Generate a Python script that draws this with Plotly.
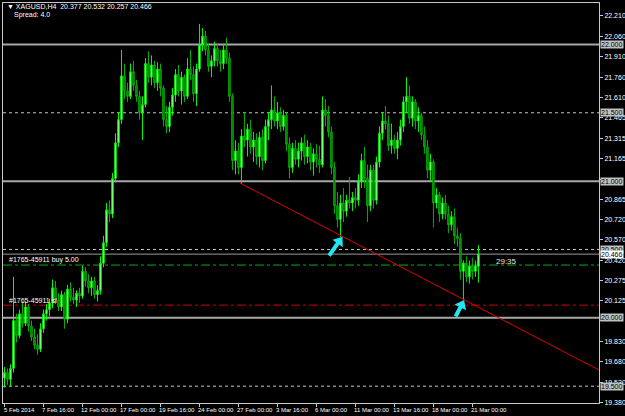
import plotly.graph_objects as go

# ---------------- data ----------------
bar_open = [19.56,19.60,19.55,19.63,19.98,19.87,20.03,19.96,20.08,19.94,
            19.86,19.80,19.77,19.92,20.03,20.06,20.11,20.22,20.13,20.08,
            20.17,19.99,20.21,20.15,20.13,20.18,20.16,20.34,20.27,20.22,
            20.27,20.17,20.20,20.40,20.55,20.79,20.76,21.02,21.28,21.45,
            21.77,21.66,21.62,21.80,21.70,21.62,21.50,21.56,21.86,21.76,
            21.85,21.72,21.82,21.68,21.45,21.40,21.54,21.63,21.78,21.66,
            21.76,21.62,21.82,21.78,21.64,21.82,22.00,22.06,21.96,21.84,
            21.88,21.97,21.88,21.86,21.96,21.90,21.62,21.15,21.22,21.10,
            21.33,21.30,21.38,21.25,21.30,21.18,21.32,21.15,21.40,21.45,
            21.52,21.44,21.50,21.40,21.48,21.27,21.10,21.24,21.16,21.22,
            21.28,21.18,21.25,21.14,21.20,21.16,21.12,21.52,21.48,21.36,
            21.10,20.82,20.72,20.84,20.78,20.86,20.84,20.88,20.86,21.00,
            21.15,21.02,20.82,21.08,20.86,21.14,21.35,21.44,21.42,21.26,
            21.30,21.24,21.30,21.40,21.58,21.62,21.46,21.58,21.44,21.48,
            21.34,21.25,21.08,21.14,20.84,20.90,20.76,20.84,20.76,20.68,
            20.74,20.60,20.58,20.34,20.40,20.30,20.38,20.34,20.377]
bar_high = [19.64,19.63,19.66,20.30,20.03,20.06,20.12,20.12,20.10,19.98,
            19.92,19.88,19.96,20.06,20.10,20.14,20.28,20.27,20.18,20.20,
            20.19,20.24,20.26,20.22,20.20,20.22,20.38,20.37,20.32,20.30,
            20.30,20.24,20.45,20.60,20.84,20.86,21.06,21.35,21.50,21.96,
            21.86,21.72,21.86,21.88,21.74,21.66,21.62,21.90,21.95,21.92,
            21.88,21.87,21.86,21.70,21.55,21.58,21.68,21.82,21.85,21.80,
            21.78,21.90,21.96,21.84,21.86,22.15,22.12,22.10,22.00,21.92,
            22.02,22.00,21.96,22.00,22.05,21.94,21.64,21.30,21.28,21.38,
            21.50,21.42,21.45,21.36,21.35,21.36,21.38,21.45,21.50,21.70,
            21.62,21.58,21.54,21.52,21.50,21.32,21.28,21.30,21.28,21.32,
            21.34,21.30,21.28,21.24,21.27,21.26,21.62,21.60,21.55,21.40,
            21.14,20.92,20.90,20.95,20.90,21.03,20.92,20.95,21.05,21.20,
            21.25,21.12,21.12,21.12,21.18,21.40,21.50,21.55,21.48,21.42,
            21.34,21.36,21.45,21.62,21.76,21.70,21.62,21.60,21.54,21.50,
            21.40,21.30,21.20,21.16,20.95,20.92,20.88,20.90,20.82,20.78,
            20.80,20.66,20.62,20.42,20.45,20.42,20.44,20.42,20.532]
bar_low = [19.49,19.51,19.50,19.60,19.82,19.85,19.93,19.94,19.90,19.83,
           19.77,19.73,19.75,19.89,19.98,20.01,20.07,20.10,20.05,20.05,
           19.92,19.96,20.12,20.10,20.08,20.11,20.14,20.23,20.18,20.16,
           20.14,20.12,20.17,20.37,20.52,20.70,20.73,20.99,21.25,21.42,
           21.60,21.58,21.60,21.66,21.58,21.45,21.30,21.54,21.72,21.70,
           21.68,21.66,21.62,21.40,21.35,21.36,21.48,21.58,21.62,21.56,
           21.58,21.60,21.74,21.58,21.55,21.80,21.95,21.92,21.80,21.76,
           21.84,21.84,21.80,21.82,21.86,21.58,21.08,21.05,21.05,20.98,
           21.25,21.18,21.20,21.14,21.12,21.10,21.08,21.13,21.30,21.38,
           21.40,21.38,21.36,21.37,21.22,21.02,21.06,21.12,21.10,21.15,
           21.12,21.13,21.08,21.04,21.10,21.06,21.10,21.40,21.32,21.05,
           20.76,20.66,20.59,20.70,20.74,20.80,20.78,20.80,20.82,20.95,
           20.95,20.70,20.78,20.80,20.83,21.10,21.30,21.38,21.22,21.20,
           21.20,21.16,21.26,21.36,21.50,21.42,21.40,21.38,21.36,21.30,
           21.20,21.02,21.00,20.66,20.80,20.70,20.72,20.72,20.62,20.64,
           20.54,20.52,20.28,20.13,20.26,20.25,20.28,20.30,20.257]
bar_close = [19.60,19.55,19.63,19.98,19.87,20.03,19.96,20.08,19.94,19.86,
             19.80,19.77,19.92,20.03,20.06,20.11,20.22,20.13,20.08,20.17,
             19.99,20.21,20.15,20.13,20.18,20.16,20.34,20.27,20.22,20.27,
             20.17,20.20,20.40,20.55,20.79,20.76,21.02,21.28,21.45,21.77,
             21.66,21.62,21.80,21.70,21.62,21.50,21.56,21.86,21.76,21.85,
             21.72,21.82,21.68,21.45,21.40,21.54,21.63,21.78,21.66,21.76,
             21.62,21.82,21.78,21.64,21.82,22.00,22.06,21.96,21.84,21.88,
             21.97,21.88,21.86,21.96,21.90,21.62,21.15,21.22,21.10,21.33,
             21.30,21.38,21.25,21.30,21.18,21.32,21.15,21.40,21.45,21.52,
             21.44,21.50,21.40,21.48,21.27,21.10,21.24,21.16,21.22,21.28,
             21.18,21.25,21.14,21.20,21.16,21.12,21.52,21.48,21.36,21.10,
             20.82,20.72,20.84,20.78,20.86,20.84,20.88,20.86,21.00,21.15,
             21.02,20.82,21.08,20.86,21.14,21.35,21.44,21.42,21.26,21.30,
             21.24,21.30,21.40,21.58,21.62,21.46,21.58,21.44,21.48,21.34,
             21.25,21.08,21.14,20.84,20.90,20.76,20.84,20.76,20.68,20.74,
             20.60,20.58,20.34,20.40,20.30,20.38,20.34,20.38,20.466]
bar_index = list(range(len(bar_close)))

time_tick_bars = [0, 13, 26, 39, 52, 65, 78, 91, 104, 117, 130, 143, 156]
time_tick_labels = ["5 Feb 2014", "7 Feb 16:00", "12 Feb 00:00", "17 Feb 00:00",
                    "19 Feb 16:00", "24 Feb 00:00", "27 Feb 00:00", "3 Mar 16:00",
                    "6 Mar 00:00", "11 Mar 00:00", "13 Mar 16:00", "18 Mar 00:00",
                    "21 Mar 00:00"]
price_ticks = [22.210, 22.060, 21.910, 21.760, 21.610, 21.465, 21.315, 21.165,
               21.015, 20.865, 20.720, 20.570, 20.420, 20.275, 20.125, 19.980,
               19.830, 19.680, 19.530, 19.380]
# ticks whose labels sit fully under a price box in the reference
hidden_ticks = [21.015, 19.980]

solid_levels = [22.000, 21.000, 20.000]
solid_labels = ["22.000", "21.000", "20.000"]
dotted_levels = [21.500, 20.500, 19.500]
dotted_labels = ["21.500", "20.500", "19.500"]
bid_price = 20.466
buy_price = 20.386
sl_price = 20.093
trend_x = [78.5, 198.2]
trend_y = [20.986, 19.618]
# cyan arrows: tail -> tip (bar index, price) and head rotation in degrees
arrow1_x = [108.2, 111.6]
arrow1_y = [20.455, 20.56]
arrow2_x = [150.4, 152.4]
arrow2_y = [20.010, 20.095]
arrow_angles = [36, 27]

FONT = "Liberation Sans"
CYAN = "#22e6f2"

fig = go.Figure()
fig.add_trace(go.Candlestick(
    x=bar_index, open=bar_open, high=bar_high, low=bar_low, close=bar_close,
    increasing=dict(line=dict(color="#00ff00", width=1), fillcolor="#c8ffc8"),
    decreasing=dict(line=dict(color="#00b400", width=1), fillcolor="#006a00"),
    whiskerwidth=0, hoverinfo="skip"))
fig.add_trace(go.Scatter(x=trend_x, y=trend_y, mode="lines",
                         line=dict(color="#e00000", width=1), hoverinfo="skip"))
for axs, ays, ang in [(arrow1_x, arrow1_y, arrow_angles[0]), (arrow2_x, arrow2_y, arrow_angles[1])]:
    fig.add_trace(go.Scatter(x=axs, y=ays, mode="lines", line=dict(color=CYAN, width=4),
                             hoverinfo="skip"))
    fig.add_trace(go.Scatter(x=[axs[1]], y=[ays[1]], mode="markers",
                             marker=dict(symbol="triangle-up", size=11, color=CYAN, angle=ang,
                                         line=dict(width=0)),
                             hoverinfo="skip"))

shapes = []
for lv in solid_levels:
    shapes.append(dict(type="line", xref="paper", x0=0, x1=1, yref="y", y0=lv, y1=lv,
                       line=dict(color="#a8a8a8", width=2), layer="below"))
for lv in dotted_levels:
    shapes.append(dict(type="line", xref="paper", x0=0, x1=1, yref="y", y0=lv, y1=lv,
                       line=dict(color="#c8c8c8", width=1, dash="dot"), layer="below"))
shapes.append(dict(type="line", xref="paper", x0=0, x1=1, yref="y", y0=bid_price, y1=bid_price,
                   line=dict(color="#9a9a9a", width=1), layer="below"))
shapes.append(dict(type="line", xref="paper", x0=0, x1=1, yref="y", y0=buy_price, y1=buy_price,
                   line=dict(color="#00b000", width=1, dash="dashdot"), layer="below"))
shapes.append(dict(type="line", xref="paper", x0=0, x1=1, yref="y", y0=sl_price, y1=sl_price,
                   line=dict(color="#d00000", width=1, dash="dashdot"), layer="below"))

ann = []
for t, lab in zip(time_tick_bars, time_tick_labels):
    ann.append(dict(x=t, xref="x", y=0, yref="paper", text=lab, showarrow=False,
                    xanchor="left", yanchor="top", xshift=-3, yshift=-2,
                    font=dict(family=FONT, size=6, color="#ffffff")))
for lv, lab in zip(solid_levels + dotted_levels, solid_labels + dotted_labels):
    ann.append(dict(x=1, xref="paper", y=lv, yref="y", text=lab, showarrow=False,
                    xanchor="left", yanchor="middle", xshift=1, bgcolor="#c0c0c0",
                    borderpad=0, font=dict(family=FONT, size=7, color="#000000")))
ann.append(dict(x=1, xref="paper", y=bid_price, yref="y", text="20.466", showarrow=False,
                xanchor="left", yanchor="middle", xshift=1, bgcolor="#ffffff",
                borderpad=0, font=dict(family=FONT, size=7, color="#000000")))
ann.append(dict(x=0.003, xref="paper", y=0.991, yref="paper",
                text="▼ XAGUSD,H4  20.377 20.532 20.257 20.466", showarrow=False,
                xanchor="left", yanchor="middle", font=dict(family=FONT, size=7, color="#ffffff")))
ann.append(dict(x=0.015, xref="paper", y=0.971, yref="paper", text="Spread: 4.0",
                showarrow=False, xanchor="left", yanchor="middle",
                font=dict(family=FONT, size=7, color="#ffffff")))
ann.append(dict(x=0.007, xref="paper", y=buy_price, yref="y", text="#1765-45911 buy 5.00",
                showarrow=False, xanchor="left", yanchor="bottom", yshift=-1,
                font=dict(family=FONT, size=7, color="#ffffff")))
ann.append(dict(x=0.007, xref="paper", y=sl_price, yref="y", text="#1765-45911 sl",
                showarrow=False, xanchor="left", yanchor="bottom", yshift=-1,
                font=dict(family=FONT, size=7, color="#ffffff")))
ann.append(dict(x=0.824, xref="paper", y=bid_price, yref="y", text="29:35",
                showarrow=False, xanchor="left", yanchor="top", yshift=-1,
                font=dict(family=FONT, size=8, color="#e0e0e0")))

fig.update_layout(
    width=625, height=416, margin=dict(l=3, r=26, t=3, b=13, autoexpand=False),
    paper_bgcolor="#000000", plot_bgcolor="#000000", showlegend=False,
    font=dict(family=FONT, size=7, color="#ffffff"),
    shapes=shapes, annotations=ann,
    xaxis=dict(range=[-0.5, 198.2], showgrid=False, zeroline=False,
               showline=True, linecolor="#c8c8c8", linewidth=1, mirror=True,
               ticks="outside", ticklen=3, tickcolor="#c8c8c8",
               tickvals=time_tick_bars, showticklabels=False,
               rangeslider=dict(visible=False), fixedrange=True),
    yaxis=dict(range=[19.377, 22.303], side="right", showgrid=False, zeroline=False,
               showline=True, linecolor="#c8c8c8", linewidth=1, mirror=True,
               ticks="outside", ticklen=3, tickcolor="#c8c8c8",
               tickvals=price_ticks,
               ticktext=["" if v in hidden_ticks else f"{v:.3f}" for v in price_ticks],
               tickfont=dict(family=FONT, size=7, color="#ffffff"), fixedrange=True),
)

fig.write_html("out.html", config={"displayModeBar": False},
               post_script="document.body.style.margin='0px';document.body.style.background='#000';")
